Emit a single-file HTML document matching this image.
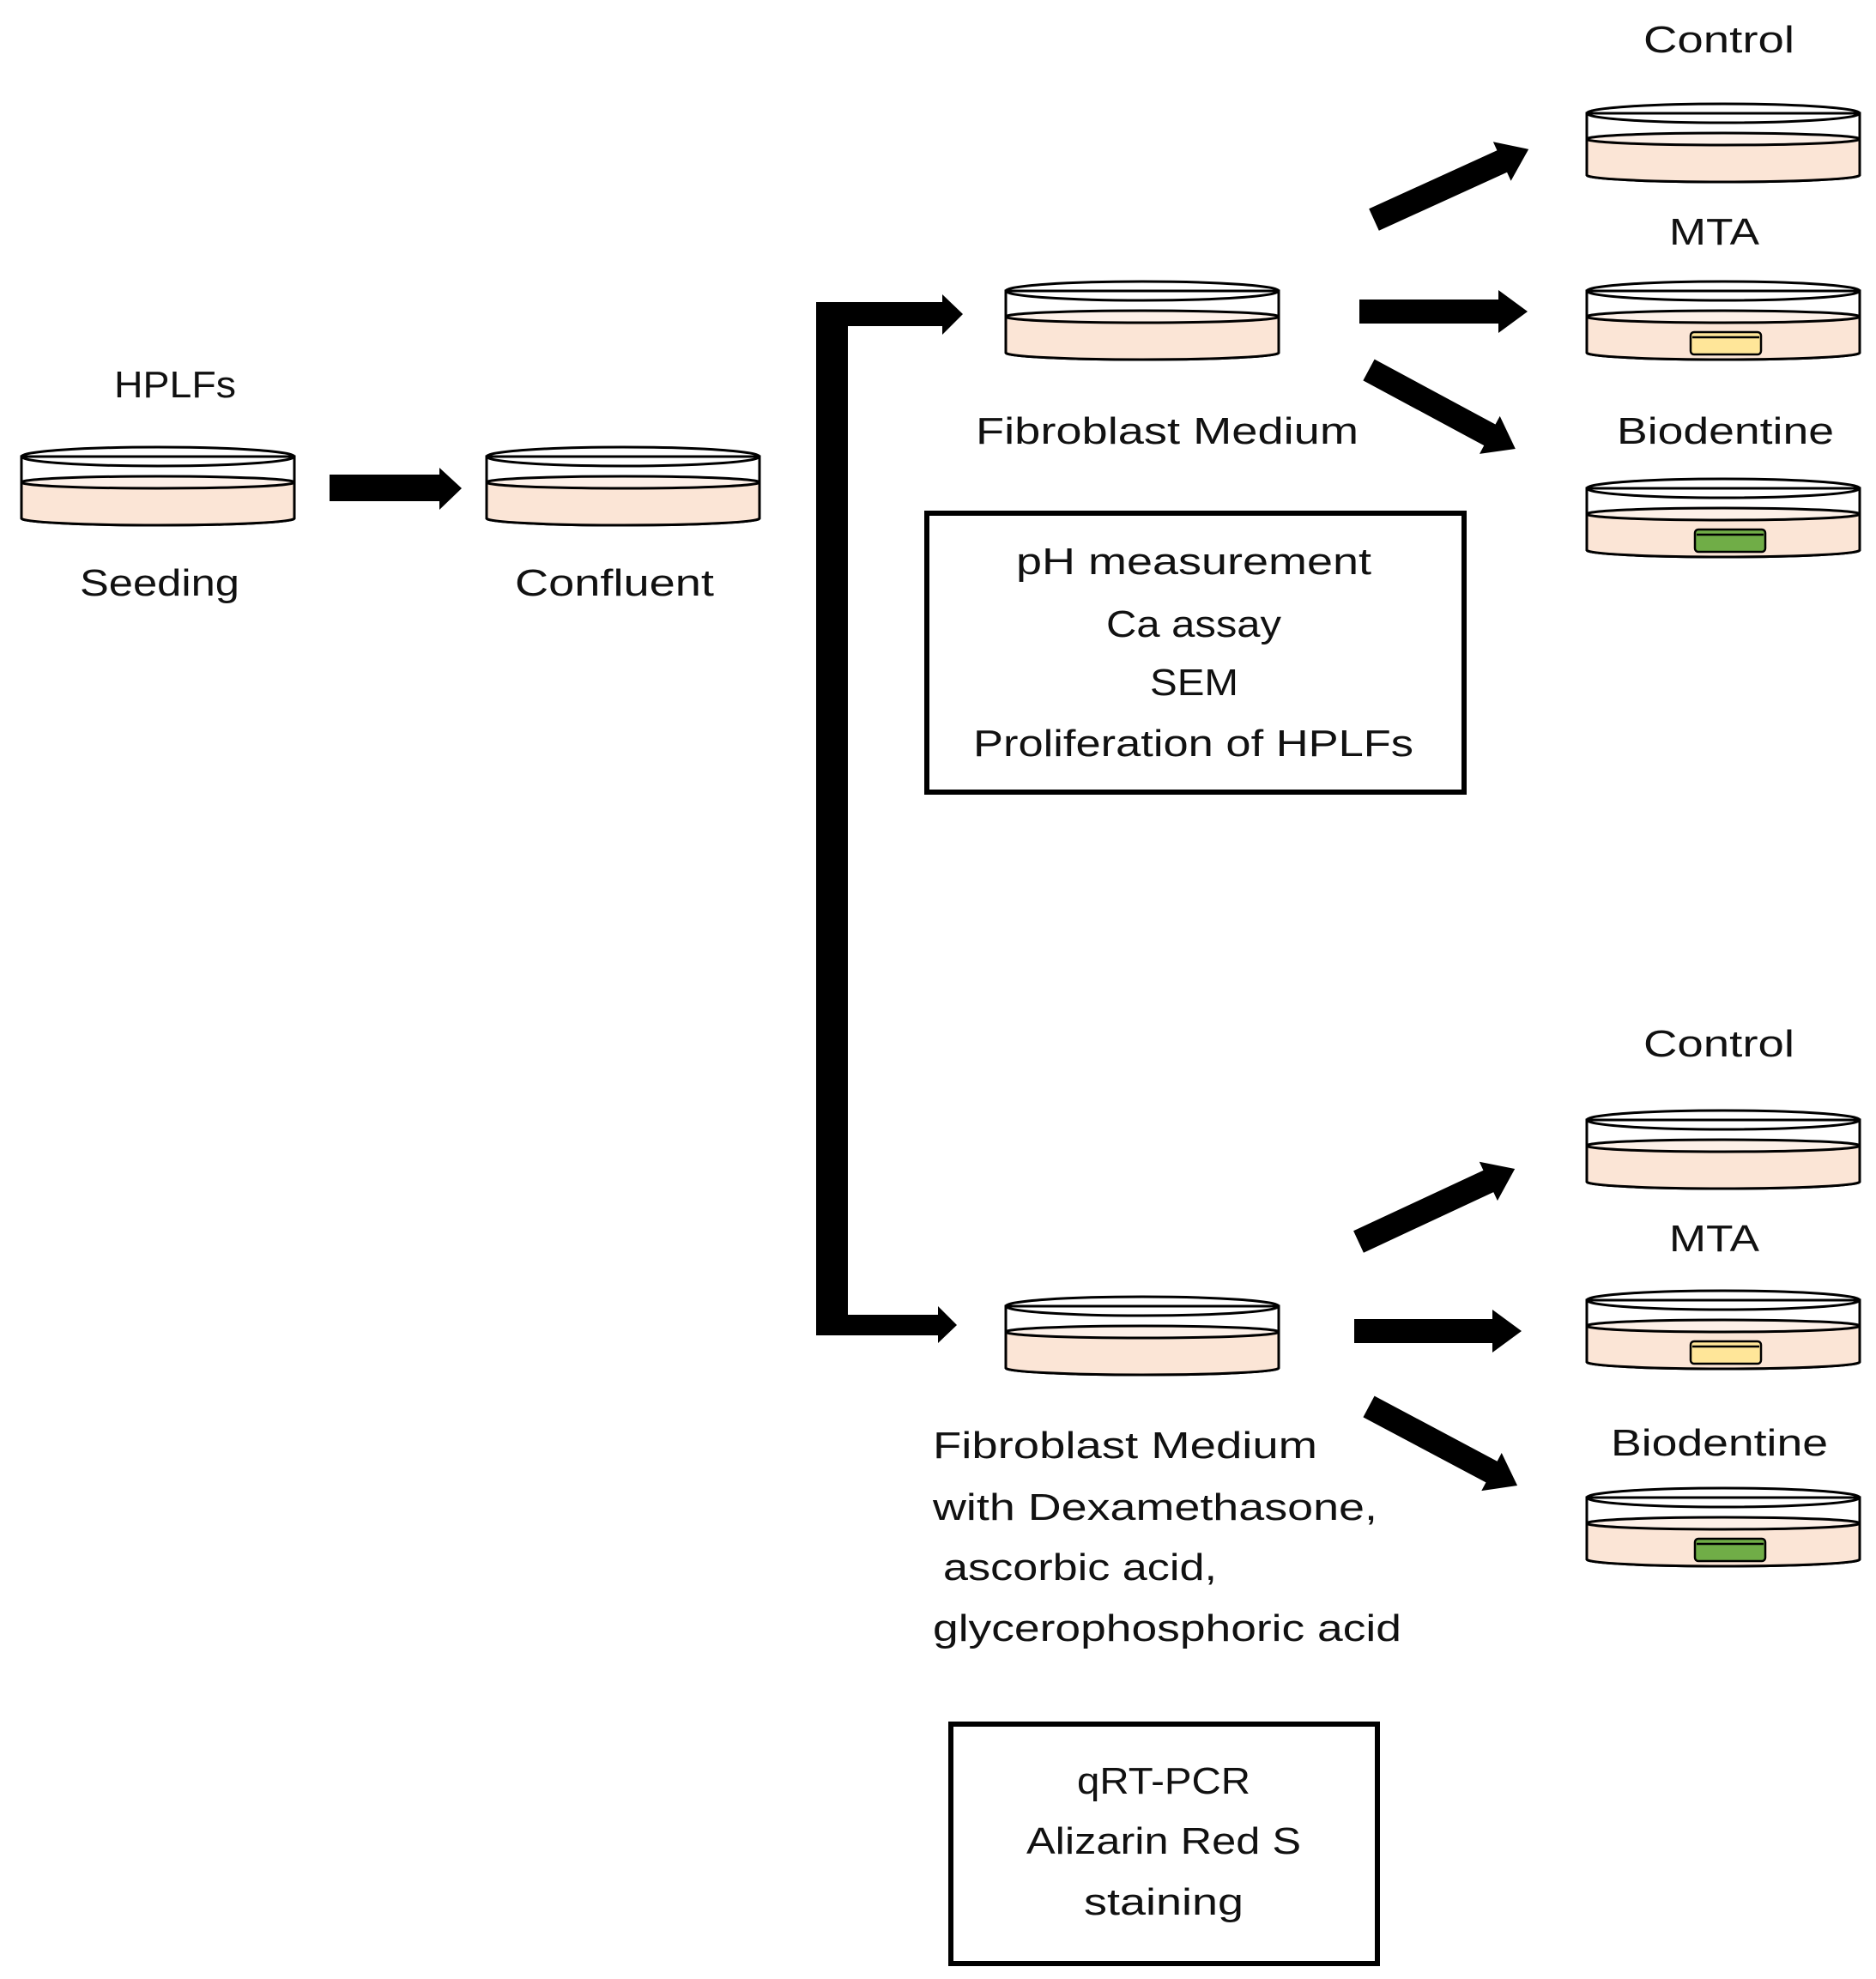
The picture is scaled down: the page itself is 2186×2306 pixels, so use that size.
<!DOCTYPE html>
<html><head><meta charset="utf-8"><style>
html,body{margin:0;padding:0;background:#fff}
svg{display:block}
text{font-family:"Liberation Sans",sans-serif;font-size:44px;fill:#111}
</style></head><body>
<svg width="2186" height="2306" viewBox="0 0 2186 2306" xmlns="http://www.w3.org/2000/svg">
<defs>
<g id="dish">
  <path d="M1,11 L1,83 A159,8 0 0 0 319,83 L319,11 Z" fill="#fff" stroke="#000" stroke-width="3"/>
  <ellipse cx="160" cy="41" rx="159" ry="7" fill="#fdf0e8"/>
  <path d="M1,41 A159,7 0 0 0 319,41 L319,83 A159,8 0 0 1 1,83 Z" fill="#fbe5d6"/>
  <ellipse cx="160" cy="41" rx="159" ry="7" fill="none" stroke="#000" stroke-width="3"/>
  <path d="M1,11 L1,83 A159,8 0 0 0 319,83 L319,11" fill="none" stroke="#000" stroke-width="3"/>
  <ellipse cx="160" cy="11" rx="159" ry="11" fill="none" stroke="#000" stroke-width="3"/>
</g>
</defs>

<use href="#dish" x="24" y="521"/>
<use href="#dish" x="566" y="521"/>
<use href="#dish" x="1171" y="328"/>
<use href="#dish" x="1171" y="1511"/>
<use href="#dish" x="1848" y="121"/>
<use href="#dish" x="1848" y="328"/>
<use href="#dish" x="1848" y="558"/>
<use href="#dish" x="1848" y="1294"/>
<use href="#dish" x="1848" y="1504"/>
<use href="#dish" x="1848" y="1734"/>

<g stroke="#000" stroke-width="2.5">
<rect x="1970" y="387" width="82" height="26" rx="4" fill="#ffe699"/>
<line x1="1972" y1="393" x2="2050" y2="393"/>
<rect x="1975" y="617" width="82" height="26" rx="4" fill="#70ad47"/>
<line x1="1977" y1="623" x2="2055" y2="623"/>
<rect x="1970" y="1563" width="82" height="26" rx="4" fill="#ffe699"/>
<line x1="1972" y1="1569" x2="2050" y2="1569"/>
<rect x="1975" y="1793" width="82" height="26" rx="4" fill="#70ad47"/>
<line x1="1977" y1="1799" x2="2055" y2="1799"/>
</g>

<polygon fill="#000" points="384,553 512,553 512,545 538,569 512,594 512,584 384,584"/>

<rect x="951" y="352" width="37" height="1204" fill="#000"/>
<polygon fill="#000" points="951,352 1098,352 1098,343 1122,366 1098,390 1098,380 951,380"/>
<polygon fill="#000" points="951,1532 1093,1532 1093,1522 1115,1544 1093,1565 1093,1556 951,1556"/>

<g fill="#000">
<polygon points="0,-14 164,-14 164,-25 198,0 164,25 164,14 0,14" transform="translate(1601,256) rotate(-24.5)"/>
<polygon points="0,-14 162,-14 162,-25 196,0 162,25 162,14 0,14" transform="translate(1584,363)"/>
<polygon points="0,-14 160,-14 160,-25 194,0 160,25 160,14 0,14" transform="translate(1595,431) rotate(28.3)"/>
<polygon points="0,-14 167,-14 167,-25 201,0 167,25 167,14 0,14" transform="translate(1583,1447) rotate(-25)"/>
<polygon points="0,-14 161,-14 161,-25 195,0 161,25 161,14 0,14" transform="translate(1578,1551)"/>
<polygon points="0,-14 162,-14 162,-25 196,0 162,25 162,14 0,14" transform="translate(1595,1639) rotate(28)"/>
</g>

<rect x="1080" y="598" width="626" height="325" fill="none" stroke="#000" stroke-width="6"/>
<rect x="1108" y="2009" width="497" height="279" fill="none" stroke="#000" stroke-width="6"/>

<g>
<text x="133" y="463" textLength="142" lengthAdjust="spacingAndGlyphs">HPLFs</text>
<text x="93" y="694" textLength="186" lengthAdjust="spacingAndGlyphs">Seeding</text>
<text x="600" y="694" textLength="232" lengthAdjust="spacingAndGlyphs">Confluent</text>
<text x="1137" y="517" textLength="446" lengthAdjust="spacingAndGlyphs">Fibroblast Medium</text>
<text x="1915" y="61" textLength="176" lengthAdjust="spacingAndGlyphs">Control</text>
<text x="1945" y="285" textLength="105" lengthAdjust="spacingAndGlyphs">MTA</text>
<text x="1884" y="517" textLength="253" lengthAdjust="spacingAndGlyphs">Biodentine</text>
<text x="1915" y="1231" textLength="176" lengthAdjust="spacingAndGlyphs">Control</text>
<text x="1945" y="1458" textLength="105" lengthAdjust="spacingAndGlyphs">MTA</text>
<text x="1877" y="1696" textLength="253" lengthAdjust="spacingAndGlyphs">Biodentine</text>

<text x="1184" y="669" textLength="414" lengthAdjust="spacingAndGlyphs">pH measurement</text>
<text x="1289" y="742" textLength="204" lengthAdjust="spacingAndGlyphs">Ca assay</text>
<text x="1340" y="810" textLength="103" lengthAdjust="spacingAndGlyphs">SEM</text>
<text x="1134" y="881" textLength="513" lengthAdjust="spacingAndGlyphs">Proliferation of HPLFs</text>

<text x="1087" y="1699" textLength="448" lengthAdjust="spacingAndGlyphs">Fibroblast Medium</text>
<text x="1087" y="1771" textLength="518" lengthAdjust="spacingAndGlyphs">with Dexamethasone,</text>
<text x="1099" y="1841" textLength="319" lengthAdjust="spacingAndGlyphs">ascorbic acid,</text>
<text x="1087" y="1912" textLength="546" lengthAdjust="spacingAndGlyphs">glycerophosphoric acid</text>

<text x="1255" y="2090" textLength="202" lengthAdjust="spacingAndGlyphs">qRT-PCR</text>
<text x="1196" y="2160" textLength="320" lengthAdjust="spacingAndGlyphs">Alizarin Red S</text>
<text x="1263" y="2231" textLength="186" lengthAdjust="spacingAndGlyphs">staining</text>
</g>
</svg>
</body></html>
